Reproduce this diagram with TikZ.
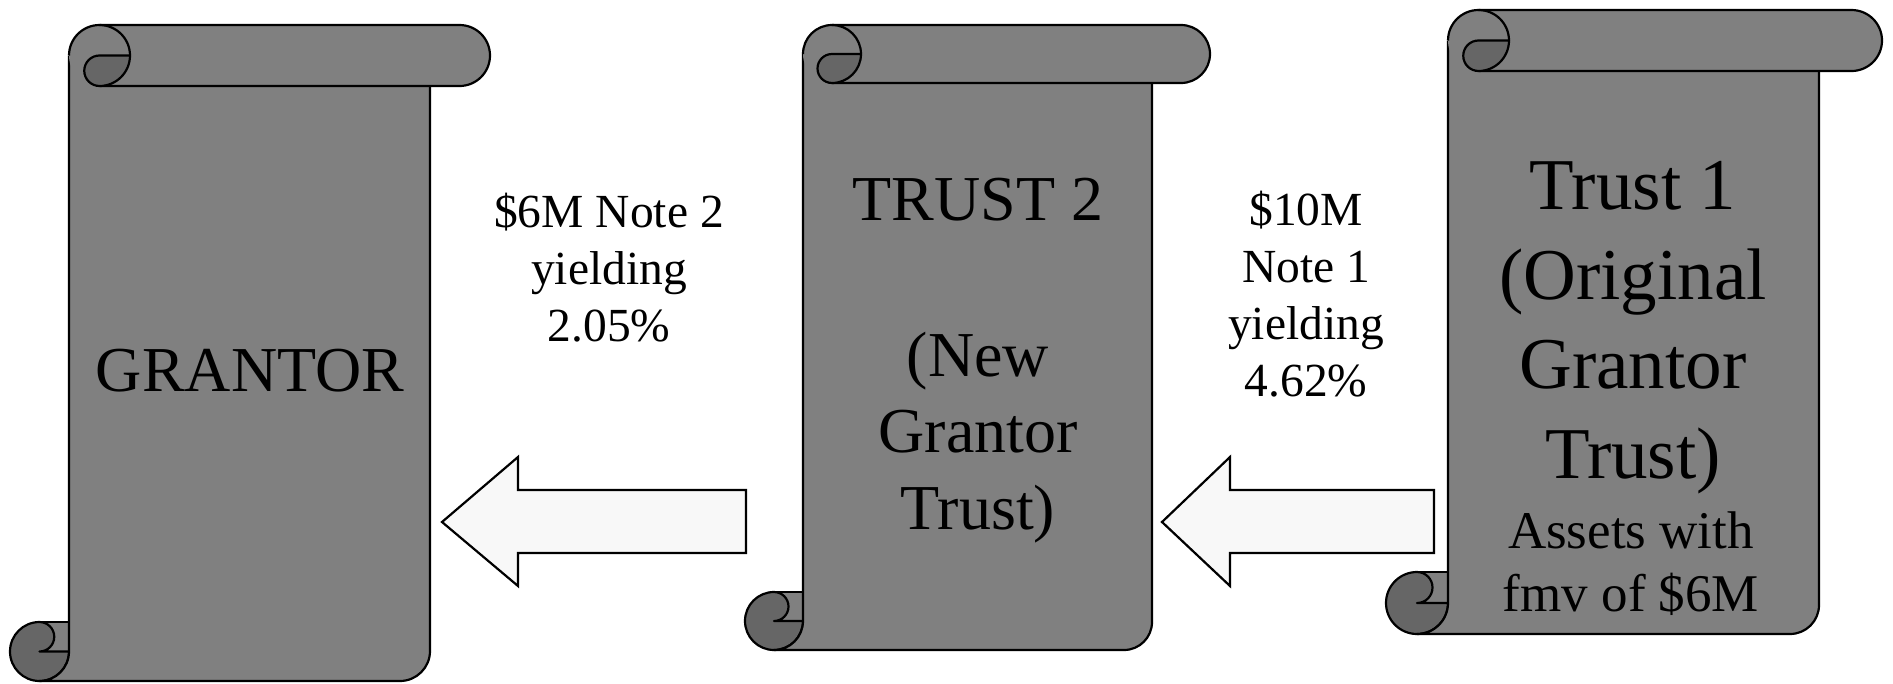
\documentclass[tikz,border=0pt]{standalone}
\usepackage{fontspec}
\setmainfont{Liberation Serif}
\definecolor{scrollgray}{HTML}{808080}
\definecolor{scrolldark}{HTML}{666666}
\definecolor{arrowfill}{HTML}{F8F8F8}
\tikzset{
  outline/.style={draw=black, line width=2.2pt, line join=round},
  arrowshape/.style={draw=black, line width=2.2pt, line join=miter, fill=arrowfill},
  bigtext/.style={anchor=base, inner sep=0pt, font=\fontsize{64}{76}\selectfont},
  hugetext/.style={anchor=base, inner sep=0pt, font=\fontsize{73}{88}\selectfont},
  midtext/.style={anchor=base, inner sep=0pt, font=\fontsize{53}{63}\selectfont},
  notetext/.style={anchor=base, inner sep=0pt, font=\fontsize{47.5}{57}\selectfont},
}
% #1 L, #2 R, #3 E, #4 T, #5 r, #6 B, #7 rb, #8 corner
\newcommand\drawscroll[8]{%
  % bottom roll
  \fill[scrollgray] ({#1-#7},{#6-2*#7}) rectangle (#1,{#6-#7});
  \draw[outline] ({#1-#7},{#6-2*#7}) -- (#1,{#6-2*#7});
  \filldraw[outline, fill=scrolldark] ({#1-#7},{#6-2*#7})
     arc[start angle=270, end angle=0, radius=#7]
     -- ({#1-#7},{#6-#7})
     arc[start angle=90, end angle=-90, radius={#7/2}] -- cycle;
  % body
  \fill[scrollgray] (#1,{#4+#5}) -- (#1,{#6-#7})
     arc[start angle=0, end angle=90, radius=#7]
     -- ({#2-#8},#6) arc[start angle=90, end angle=0, radius=#8]
     -- (#2,{#4+#5}) -- cycle;
  \draw[outline] (#1,{#4+#5}) -- (#1,{#6-#7})
     arc[start angle=0, end angle=90, radius=#7]
     -- ({#2-#8},#6) arc[start angle=90, end angle=0, radius=#8]
     -- (#2,{#4+#5});
  % top roll
  \fill[scrollgray] (#1,{#4+#5}) arc[start angle=180, end angle=270, radius=#5]
     -- ({#3-#5},#4) arc[start angle=-90, end angle=90, radius=#5]
     -- ({#1+#5},{#4+2*#5}) arc[start angle=90, end angle=180, radius=#5] -- cycle;
  \draw[outline] (#1,{#4+#5}) arc[start angle=180, end angle=270, radius=#5]
     -- ({#3-#5},#4) arc[start angle=-90, end angle=90, radius=#5]
     -- ({#1+#5},{#4+2*#5});
  \draw[outline] ({#1+#5},#4) arc[start angle=-90, end angle=0, radius=#5];
  \filldraw[outline, fill=scrolldark] ({#1+#5},{#4+#5}) -- ({#1+2*#5},{#4+#5})
     arc[start angle=0, end angle=90, radius=#5]
     arc[start angle=90, end angle=270, radius={#5/2}] -- cycle;
}
\begin{document}
\begin{tikzpicture}[x=1pt, y=1pt, yscale=-1]
\useasboundingbox (0,0) rectangle (1893,683);
\fill[white] (0,0) rectangle (1893,683);

% scrolls
\drawscroll{69}{430}{490}{25}{30.5}{681}{29.5}{30}
\drawscroll{803}{1152}{1210}{25}{29}{650}{29}{28}
\drawscroll{1448}{1819}{1882}{10}{30.5}{634}{31}{29}

% arrows
\filldraw[arrowshape] (442,522) -- (518,457) -- (518,490) -- (746,490)
   -- (746,553) -- (518,553) -- (518,586) -- cycle;
\filldraw[arrowshape] (1162,522) -- (1230,457) -- (1230,490) -- (1434,490)
   -- (1434,553) -- (1230,553) -- (1230,586) -- cycle;

% GRANTOR
\node[bigtext] (grantor) at (250,391) {GRANTOR};

% TRUST 2
\node[bigtext] (t2a) at (978,220) {TRUST 2};
\node[bigtext] (t2b) at (978,376) {(New};
\node[bigtext] (t2c) at (978,452) {Grantor};
\node[bigtext] (t2d) at (978,529) {Trust)};

% Trust 1
\node[hugetext] (t1a) at (1633,209) {Trust 1};
\node[hugetext] (t1b) at (1633,299) {(Original};
\node[hugetext] (t1c) at (1633,388) {Grantor};
\node[hugetext] (t1d) at (1633,478) {Trust)};
\node[midtext] (t1e) at (1631,548) {Assets with};
\node[midtext] (t1f) at (1631,611) {fmv of \$6M};

% note labels
\node[notetext] (n2a) at (609,227) {\$6M Note 2};
\node[notetext] (n2b) at (609,284) {yielding};
\node[notetext] (n2c) at (609,341) {2.05\%};

\node[notetext] (n1a) at (1306,225) {\$10M};
\node[notetext] (n1b) at (1306,282) {Note 1};
\node[notetext] (n1c) at (1306,339) {yielding};
\node[notetext] (n1d) at (1306,396) {4.62\%};
\end{tikzpicture}
\end{document}
